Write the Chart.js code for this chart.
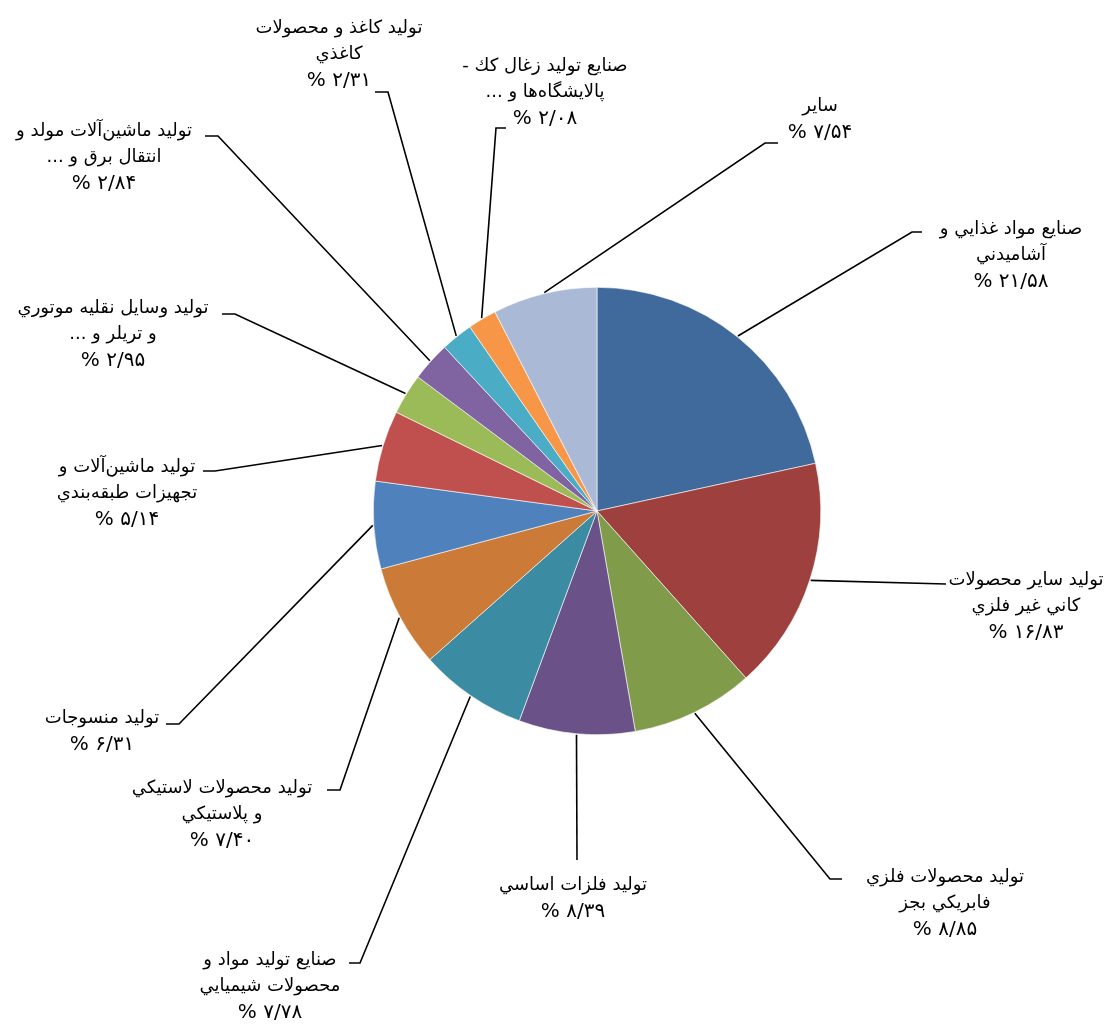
<!DOCTYPE html>
<html>
<head>
<meta charset="utf-8">
<script src="https://cdn.jsdelivr.net/npm/chart.js@4"></script>
<style>
  html, body { margin: 0; padding: 0; background: #fff; }
  #wrap { width: 1115px; height: 1024px; position: relative; }
</style>
</head>
<body>
<div id="wrap"><canvas id="pie"></canvas></div>
<script>
// ── Data ───────────────────────────────────────────────────────────────────
const CATEGORIES = [
  ['صنايع مواد غذايي و', 'آشاميدني'],
  ['توليد ساير محصولات', 'كاني غير فلزي'],
  ['توليد محصولات فلزي', 'فابريكي بجز'],
  ['توليد فلزات اساسي'],
  ['صنايع توليد مواد و', 'محصولات شيميايي'],
  ['توليد محصولات لاستيكي', 'و پلاستيكي'],
  ['توليد منسوجات'],
  ['توليد ماشين\u200cآلات و', 'تجهيزات طبقه\u200cبندي'],
  ['توليد وسايل نقليه موتوري', 'و تريلر و ...'],
  ['توليد ماشين\u200cآلات مولد و', 'انتقال برق و ...'],
  ['توليد كاغذ و محصولات', 'كاغذي'],
  ['صنايع توليد زغال كك -', 'پالايشگاه\u200cها و ...'],
  ['ساير'],
];

const SHARES = [21.58, 16.83, 8.85, 8.39, 7.78, 7.40, 6.31, 5.14, 2.95, 2.84, 2.31, 2.08, 7.54];

const COLORS = [
  '#416A9C', '#9E413E', '#809C4A', '#6A5187', '#3B8CA3', '#CB7A38', '#4F81BD',
  '#C0504D', '#9BBB59', '#8064A2', '#4BACC6', '#F79646', '#AAB9D6',
];

// ── Label placement (text centre x, first line y, leader elbow, tail end) ─
const LABEL_LAYOUT = [
  { cx: 1011, y: 229, elbow: [912, 232], tail: [922, 232] },
  { cx: 1026, y: 580, elbow: [946, 584], tail: null },
  { cx: 945,  y: 877, elbow: [830, 879], tail: [842, 879] },
  { cx: 573,  y: 885, elbow: [577, 860], tail: null },
  { cx: 270,  y: 960, elbow: [360, 963], tail: [349, 963] },
  { cx: 222,  y: 788, elbow: [340, 790], tail: [327, 790] },
  { cx: 102,  y: 718, elbow: [179, 724], tail: [166, 724] },
  { cx: 127,  y: 467, elbow: [215, 471], tail: [203, 471] },
  { cx: 113,  y: 308, elbow: [235, 314], tail: [222, 314] },
  { cx: 104,  y: 131, elbow: [218, 136], tail: [205, 136] },
  { cx: 339,  y: 28,  elbow: [388, 92],  tail: [375, 92] },
  { cx: 545,  y: 66,  elbow: [496, 128], tail: [506, 128] },
  { cx: 820,  y: 106, elbow: [765, 143], tail: [778, 143] },
];

const FONT = '18px "DejaVu Sans", sans-serif';
const PCT_FONT = '20px "DejaVu Sans", sans-serif';
const LINE_H = 26.5;

// Persian digits, "/" as decimal separator
const FA_DIGITS = '۰۱۲۳۴۵۶۷۸۹';
function faPct(v) {
  const s = v.toFixed(2).replace('.', '/').replace(/[0-9]/g, d => FA_DIGITS[d]);
  return s + ' %';
}

// ── Leader lines + labels ─────────────────────────────────────────────────
const labelPlugin = {
  id: 'leaderLabels',
  afterDraw(chart) {
    const ctx = chart.ctx;
    const arcs = chart.getDatasetMeta(0).data;
    ctx.save();
    ctx.strokeStyle = '#000';
    ctx.lineWidth = 1.6;
    arcs.forEach((arc, i) => {
      const L = LABEL_LAYOUT[i];
      const mid = (arc.startAngle + arc.endAngle) / 2;
      const sx = arc.x + Math.cos(mid) * (arc.outerRadius + 1);
      const sy = arc.y + Math.sin(mid) * (arc.outerRadius + 1);
      ctx.beginPath();
      ctx.moveTo(sx, sy);
      ctx.lineTo(L.elbow[0], L.elbow[1]);
      if (L.tail) ctx.lineTo(L.tail[0], L.tail[1]);
      ctx.stroke();

      const lines = CATEGORIES[i];
      ctx.fillStyle = '#000';
      ctx.direction = 'rtl';
      ctx.textAlign = 'center';
      ctx.textBaseline = 'middle';
      ctx.font = FONT;
      lines.forEach((t, k) => ctx.fillText(t, L.cx, L.y + k * LINE_H));
      ctx.font = PCT_FONT;
      ctx.fillText(faPct(SHARES[i]), L.cx, L.y + lines.length * LINE_H);
    });
    ctx.restore();
  },
};

// ── Chart ──────────────────────────────────────────────────────────────────
new Chart(document.getElementById('pie'), {
  type: 'pie',
  data: {
    labels: CATEGORIES.map(c => c.join(' ')),
    datasets: [{
      data: SHARES,
      backgroundColor: COLORS,
      borderColor: '#ffffff',
      borderWidth: 0.6,
    }],
  },
  options: {
    responsive: true,
    maintainAspectRatio: false,
    animation: false,
    layout: { padding: { left: 373, right: 294, top: 287, bottom: 289 } },
    plugins: {
      legend: { display: false },
      tooltip: { enabled: false },
    },
  },
  plugins: [labelPlugin],
});
</script>
</body>
</html>
